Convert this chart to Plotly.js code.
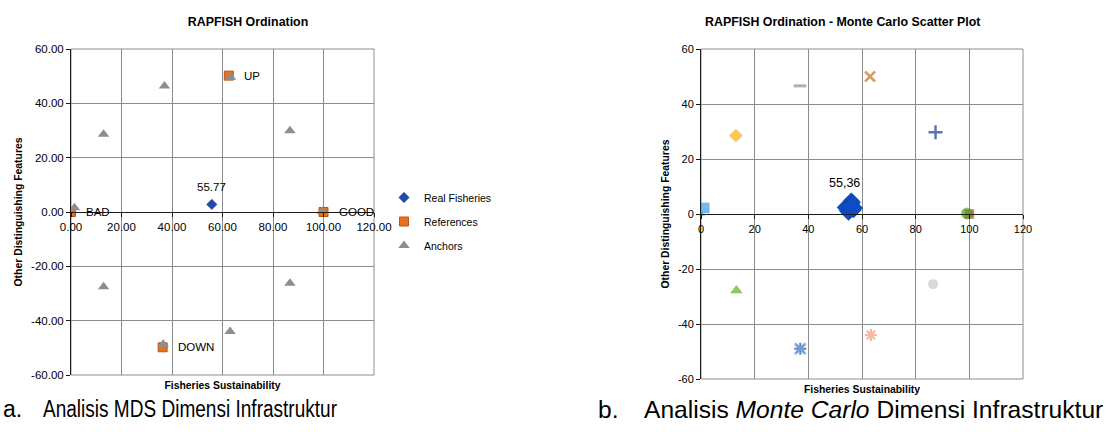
<!DOCTYPE html>
<html><head><meta charset="utf-8">
<script src="https://cdn.plot.ly/plotly-3.0.1.min.js"></script>
<style>html,body{margin:0;padding:0;background:#fff}#chart{width:1109px;height:432px}</style>
</head><body><div id="chart"></div>
<script>
// ---------- Data: (a) RAPFISH Ordination ----------
const realName = 'Real Fisheries';
const realX = [55.77];
const realY = [2.8];
const realLabels = ['55.77'];

const refName = 'References';
const refLabels = ['BAD', 'GOOD', 'UP', 'DOWN'];
const refX = [0, 100, 62.5, 36.3];
const refY = [0, 0, 50.2, -49.8];

const anchorName = 'Anchors';
const anchorX = [1.4, 12.9, 37.0, 63.2, 86.7, 99.6, 86.7, 63.0, 36.5, 12.9];
const anchorY = [1.6, 28.6, 46.4, 49.6, 29.9, 0.3, -26.2, -44.0, -48.7, -27.5];

const xTickValsA = [0, 20, 40, 60, 80, 100, 120];
const xTickTextA = ['0.00', '20.00', '40.00', '60.00', '80.00', '100.00', '120.00'];
const yTickValsA = [-60, -40, -20, 0, 20, 40, 60];
const yTickTextA = ['-60.00', '-40.00', '-20.00', '0.00', '20.00', '40.00', '60.00'];

// ---------- Data: (b) Monte Carlo scatter ----------
const mcX = [53.6, 54.4, 55.0, 55.6, 56.2, 56.8, 57.4, 55.3, 56.0, 54.8, 56.6, 55.9];
const mcY = [2.4, 1.2, 0.5, 1.6, 2.6, 1.4, 2.2, 3.6, 4.9, 3.0, 4.2, 3.3];
const mcLabel = '55,36';
const mcLabelX = 55.36;

const mcPointX = [0, 1.2, 13.0, 36.9, 63.0, 87.4, 100, 99.1, 86.5, 63.3, 37.0, 37.0, 13.2];
const mcPointY = [0, 2.2, 28.5, 46.6, 50.0, 29.7, 0, 0.2, -25.5, -44.0, -49.0, -49.0, -27.8];

const xTickValsB = [0, 20, 40, 60, 80, 100, 120];
const xTickTextB = ['0', '20', '40', '60', '80', '100', '120'];
const yTickValsB = [-60, -40, -20, 0, 20, 40, 60];
const yTickTextB = ['-60', '-40', '-20', '0', '20', '40', '60'];

// ---------- Texts ----------
const titleA = 'RAPFISH Ordination';
const titleB = 'RAPFISH Ordination - Monte Carlo Scatter Plot';
const xTitle = 'Fisheries Sustainability';
const yTitle = 'Other Distinguishing Features';
const captionA = ['a.', 'Analisis MDS Dimensi Infrastruktur'];
const captionB = ['b.', 'Analisis <i>Monte Carlo</i> Dimensi Infrastruktur'];

// ---------- Styles (kept apart from data) ----------
const mcStyle = [
  {s: 'triangle-up', c: '#7f7f7f', z: 7,  lc: '#7f7f7f', lw: 0},
  {s: 'square',      c: '#3d9be9', z: 10, lc: '#2f86d6', lw: 0.5},
  {s: 'diamond',     c: '#f6b40a', z: 10, lc: '#e0a000', lw: 0.5},
  {s: 'line-ew',     c: '#8f8f8f', z: 9,  lc: '#8f8f8f', lw: 3},
  {s: 'x-thin',      c: '#c8731a', z: 10, lc: '#c8731a', lw: 2.5},
  {s: 'cross-thin',  c: '#1c3a9c', z: 10, lc: '#1c3a9c', lw: 2.5},
  {s: 'square',      c: '#c24a1c', z: 9,  lc: '#a03a10', lw: 0.5},
  {s: 'circle',      c: '#4ea41e', z: 11, lc: '#3f8a16', lw: 0.5},
  {s: 'circle',      c: '#c9c9c9', z: 10, lc: '#c9c9c9', lw: 0},
  {s: 'asterisk',    c: '#f29a7a', z: 10, lc: '#f29a7a', lw: 2.2},
  {s: 'asterisk',    c: '#1f4e9a', z: 10, lc: '#1f4e9a', lw: 2},
  {s: 'x-thin',      c: '#7ca8e8', z: 11, lc: '#7ca8e8', lw: 3},
  {s: 'triangle-up', c: '#5bb41c', z: 10, lc: '#4a9a12', lw: 0.5}
];

const W = 1109, H = 432;
const px = v => v / W, py = v => 1 - v / H;
const gridCol = '#8c8c8c';
const axCol = '#1a1a1a';

const traces = [
  {type: 'scatter', mode: 'markers', name: realName, x: realX, y: realY, xaxis: 'x', yaxis: 'y',
   marker: {symbol: 'diamond', size: 8, color: '#1f4aa8', line: {color: '#173a88', width: 0.5}},
   legendgroup: 'g1', hoverinfo: 'x+y'},
  {type: 'scatter', mode: 'markers', name: refName, x: refX, y: refY, xaxis: 'x', yaxis: 'y',
   marker: {symbol: 'square', size: 9, color: '#e8701e', line: {color: '#b8561a', width: 1}},
   legendgroup: 'g2', hoverinfo: 'x+y'},
  {type: 'scatter', mode: 'markers', name: anchorName, x: anchorX, y: anchorY, xaxis: 'x3', yaxis: 'y',
   marker: {symbol: 'triangle-up', size: 10, color: '#8e8e8e', line: {width: 0}},
   legendgroup: 'g3', hoverinfo: 'x+y'},
  {type: 'scatter', mode: 'markers', name: 'Monte Carlo', x: mcX, y: mcY, xaxis: 'x4', yaxis: 'y2',
   marker: {symbol: 'diamond', size: 12, color: '#0d4ec4', line: {color: '#0a3e9e', width: 0.5}},
   showlegend: false, hoverinfo: 'x+y'},
  {type: 'scatter', mode: 'markers', name: 'Anchors MC', x: mcPointX, y: mcPointY, xaxis: 'x4', yaxis: 'y2',
   marker: {symbol: mcStyle.map(o => o.s), size: mcStyle.map(o => o.z), color: mcStyle.map(o => o.c),
            line: {color: mcStyle.map(o => o.lc), width: mcStyle.map(o => o.lw)}},
   showlegend: false, hoverinfo: 'x+y'}
];

const annotations = [];
// data labels
realLabels.forEach((t, i) => annotations.push({xref: 'x', yref: 'y', x: realX[i], y: realY[i], text: t,
  showarrow: false, yshift: 17, font: {size: 11.5}}));
refLabels.forEach((t, i) => annotations.push({xref: 'x', yref: 'y', x: refX[i], y: refY[i], text: t,
  showarrow: false, xanchor: 'left', xshift: 13, font: {size: 11.5}}));
annotations.push({xref: 'x2', yref: 'y2', x: mcLabelX, y: Math.max(...mcY), text: mcLabel,
  showarrow: false, yshift: 18, xshift: -5, font: {size: 12.5}});
// right chart title
annotations.push({xref: 'paper', yref: 'paper', x: px(842), y: py(22), text: '<b>' + titleB + '</b>',
  showarrow: false, xanchor: 'center', yanchor: 'middle', font: {size: 12.4}});
// captions
const capFontA = {family: '"Liberation Sans Narrow", "Liberation Sans", Arial, sans-serif', size: 23, color: '#000'};
const capFontB = {family: '"Liberation Sans", Arial, sans-serif', size: 24.6, color: '#000'};
const capStart = annotations.length;
[[captionA[0], 1, capFontA], [captionA[1], 41, capFontA], [captionB[0], 596, capFontB], [captionB[1], 642, capFontB]].forEach(([t, x, f]) =>
  annotations.push({xref: 'paper', yref: 'paper', x: px(x), y: py(409), text: t, showarrow: false,
    xanchor: 'left', yanchor: 'middle', align: 'left', font: f}));

const baseX = (dom, anchor) => ({domain: dom, range: [0, 120], anchor: anchor, tickvals: xTickValsA,
  showticklabels: false, showgrid: true, gridcolor: gridCol, gridwidth: 1, zeroline: false, ticks: '',
  showline: false, fixedrange: true,
  title: {text: '<b>' + xTitle + '</b>', font: {size: 10.4}, standoff: 6}});

const layout = {
  width: W, height: H, margin: {l: 0, r: 0, t: 0, b: 0, pad: 0},
  paper_bgcolor: '#ffffff', plot_bgcolor: 'rgba(0,0,0,0)',
  font: {family: '"Liberation Sans", Arial, sans-serif', color: '#000', size: 11},
  title: {text: '<b>' + titleA + '</b>', x: px(248), xref: 'paper', xanchor: 'center',
          y: py(22), yref: 'container', yanchor: 'middle', font: {size: 12.4}},
  showlegend: true,
  legend: {x: px(384), xanchor: 'left', y: py(183), yanchor: 'top', font: {size: 10.5},
           tracegroupgap: 5, bgcolor: 'rgba(0,0,0,0)', itemclick: false},
  xaxis: baseX([px(71), px(374)], 'y'),
  xaxis3: {overlaying: 'x', anchor: 'free', position: py(212), range: [0, 120],
           tickvals: xTickValsA, ticktext: xTickTextA, showgrid: false, zeroline: false,
           showline: true, linecolor: axCol, linewidth: 1, ticks: 'outside', ticklen: 4, tickcolor: axCol,
           tickfont: {size: 11.5}, fixedrange: true},
  yaxis: {domain: [py(375), py(49)], range: [-60, 60], anchor: 'x', tickvals: yTickValsA, ticktext: yTickTextA,
          showgrid: true, gridcolor: gridCol, zeroline: false, showline: true, linecolor: axCol, linewidth: 1,
          ticks: 'outside', ticklen: 4, tickcolor: axCol, tickfont: {size: 11.5}, fixedrange: true,
          title: {text: '<b>' + yTitle + '</b>', font: {size: 10.4}, standoff: 6}},
  xaxis2: baseX([px(701), px(1023)], 'y2'),
  xaxis4: {overlaying: 'x2', anchor: 'free', position: py(214.3), range: [0, 120],
           tickvals: xTickValsB, ticktext: xTickTextB, showgrid: false, zeroline: false,
           showline: true, linecolor: axCol, linewidth: 1, ticks: 'outside', ticklen: 4, tickcolor: axCol,
           tickfont: {size: 11}, fixedrange: true},
  yaxis2: {domain: [py(379), py(49)], range: [-60, 60], anchor: 'x2', tickvals: yTickValsB, ticktext: yTickTextB,
           showgrid: true, gridcolor: gridCol, zeroline: false, showline: true, linecolor: axCol, linewidth: 1,
           ticks: 'outside', ticklen: 4, tickcolor: axCol, tickfont: {size: 11}, fixedrange: true,
           title: {text: '<b>' + yTitle + '</b>', font: {size: 10.4}, standoff: 6}},
  shapes: [
    {type: 'rect', xref: 'x domain', yref: 'y domain', x0: 0, x1: 1, y0: 0, y1: 1, line: {color: gridCol, width: 1}, layer: 'below'},
    {type: 'rect', xref: 'x2 domain', yref: 'y2 domain', x0: 0, x1: 1, y0: 0, y1: 1, line: {color: gridCol, width: 1}, layer: 'below'}
  ],
  annotations: annotations
};

Plotly.newPlot('chart', traces, layout, {displayModeBar: false, staticPlot: true}).then(gd => {
  // caption (a) is set in a condensed face in the reference: compress its glyphs to the measured width
  const texts = gd.querySelectorAll('.annotation[data-index="' + (capStart + 1) + '"] text.annotation-text');
  texts.forEach(t => {
    t.setAttribute('textLength', '294');
    t.setAttribute('lengthAdjust', 'spacingAndGlyphs');
  });
});
</script>
</body></html>
